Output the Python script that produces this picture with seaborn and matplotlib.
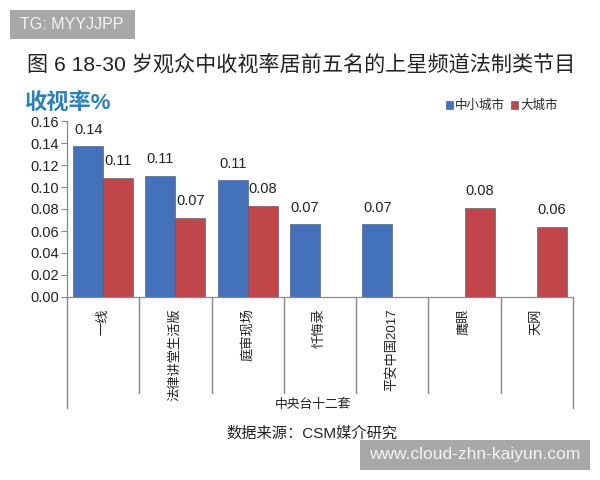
import numpy as np
import pandas as pd
import matplotlib
matplotlib.use('Agg')
import matplotlib.pyplot as plt
from matplotlib.patches import Rectangle
from matplotlib.transforms import blended_transform_factory
import seaborn as sns

# Data
programs = ['一线', '法律讲堂生活版', '庭审现场', '忏悔录', '平安中国2017', '鹰眼', '天网']
cities = ['中小城市', '大城市']
small_city = [0.137, 0.110, 0.106, 0.066, 0.066, None, None]
big_city = [0.108, 0.072, 0.083, None, None, 0.081, 0.064]
yticks = [0.00, 0.02, 0.04, 0.06, 0.08, 0.10, 0.12, 0.14, 0.16]

title = '图 6 18-30 岁观众中收视率居前五名的上星频道法制类节目'
ylabel = '收视率%'
group_label = '中央台十二套'
source = '数据来源：CSM媒介研究'

colors = ['#4372bb', '#c1464a']

sns.set_style('white')
plt.rcParams['font.family'] = ['Liberation Sans', 'Noto Sans CJK SC', 'DejaVu Sans']

# long table, skip missing bars
rows = []
for city, vals in zip(cities, [small_city, big_city]):
    for prog, v in zip(programs, vals):
        if v is not None:
            rows.append({'program': prog, 'city': city, 'rating': v})
df = pd.DataFrame(rows)

fig = plt.figure(figsize=(6, 4.8), dpi=100)
fig.patch.set_facecolor('white')
ax = fig.add_axes([67 / 600, 1 - 297 / 480, (573 - 67) / 600, (297 - 121) / 480])

sns.barplot(data=df, x='program', y='rating', hue='city', order=programs,
            hue_order=cities, palette=colors, saturation=1, width=0.83,
            edgecolor='#44506a', linewidth=0.4, ax=ax)

for cont in ax.containers:
    ax.bar_label(cont, fmt='%.2f', padding=7, fontsize=10.5, color='#222222')

ax.set_ylim(0, 0.16)
ax.set_xlim(-0.5, len(programs) - 0.5)
ax.set_yticks(yticks)
ax.set_yticklabels([f'{t:.2f}' for t in yticks], fontsize=10.5, color='#222222')
ax.set_xticks(range(len(programs)))
ax.set_xticklabels(programs, rotation=90, fontsize=9.5, va='top', ha='center',
                   color='#222222')
ax.tick_params(axis='x', length=0, pad=8)
ax.tick_params(axis='y', length=4, width=0.8, color='#888888', left=True, pad=2)
ax.set_xlabel('')
ax.set_ylabel('')
sns.despine(ax=ax, top=True, right=True)
for s in ['left', 'bottom']:
    ax.spines[s].set_color('#888888')
    ax.spines[s].set_linewidth(0.9)

# category separators below the axis
trans = blended_transform_factory(ax.transData, ax.transAxes)
for i in range(len(programs) + 1):
    x = i - 0.5
    low = -0.63 if i in (0, len(programs)) else -0.545
    ax.plot([x, x], [0, low], transform=trans, color='#888888', lw=1, clip_on=False)

# legend
sns.move_legend(ax, 'center', bbox_to_anchor=(502 / 600, 1 - 106 / 480),
                bbox_transform=fig.transFigure, ncol=2, frameon=False, title=None,
                handlelength=0.55, handleheight=0.55, handletextpad=0.2,
                columnspacing=0.5, fontsize=9)

# texts
fig.text(27 / 600, 1 - 64 / 480, title, fontsize=15.2, color='#222222',
         ha='left', va='center')
fig.text(25 / 600, 1 - 103 / 480, ylabel, fontsize=16, fontweight='bold',
         color='#2b82b5', ha='left', va='center')
fig.text(313 / 600, 1 - 405 / 480, group_label, fontsize=9.2, color='#222222',
         ha='center', va='center')
fig.text(312 / 600, 1 - 434 / 480, source, fontsize=11, color='#222222',
         ha='center', va='center')

# watermark boxes
fig.patches.append(Rectangle((10 / 600, 1 - 39 / 480), 125 / 600, 29 / 480,
                             transform=fig.transFigure, facecolor='#a8a8a8',
                             edgecolor='none'))
fig.text(72 / 600, 1 - 24.5 / 480, 'TG: MYYJJPP', fontsize=11.5, color='#f4f4f4',
         ha='center', va='center')
fig.patches.append(Rectangle((360 / 600, 1 - 470 / 480), 230 / 600, 30 / 480,
                             transform=fig.transFigure, facecolor='#a8a8a8',
                             edgecolor='none'))
fig.text(475 / 600, 1 - 455 / 480, 'www.cloud-zhn-kaiyun.com', fontsize=12.5,
         color='#f4f4f4', ha='center', va='center')

fig.savefig('out.png', dpi=100)
